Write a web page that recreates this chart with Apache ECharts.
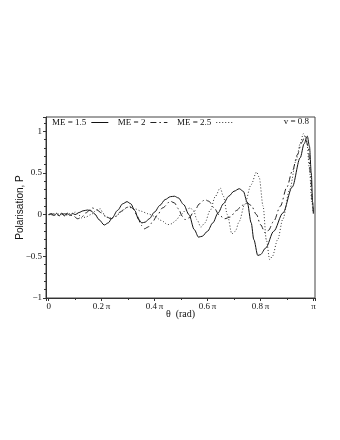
<!DOCTYPE html>
<html>
<head>
<meta charset="utf-8">
<script src="https://cdn.jsdelivr.net/npm/echarts@6/dist/echarts.min.js"></script>
<style>
  html, body { margin: 0; padding: 0; background: #fff; }
  #main { width: 340px; height: 440px; }
</style>
</head>
<body>
<div id="main"></div>
<script>
// theta in units of pi, polarisation P
const me15 = [
  [0, 0], [0.01, 0.012], [0.02, -0.012], [0.03, 0.015], [0.04, -0.015], [0.05, 0.018],
  [0.06, -0.015], [0.07, 0.018], [0.08, -0.01], [0.09, 0.015], [0.1, 0.0], [0.115, 0.025],
  [0.13, 0.045], [0.147, 0.055], [0.16, 0.045], [0.175, 0.005], [0.19, -0.06], [0.21, -0.125],
  [0.225, -0.1], [0.24, -0.04], [0.26, 0.05], [0.28, 0.13], [0.296, 0.155], [0.31, 0.13],
  [0.325, 0.05], [0.34, -0.06], [0.352, -0.1], [0.365, -0.09], [0.38, -0.05], [0.4, 0.03],
  [0.42, 0.11], [0.44, 0.18], [0.46, 0.215], [0.475, 0.22], [0.49, 0.2], [0.51, 0.12],
  [0.53, 0.0], [0.55, -0.18], [0.566, -0.27], [0.58, -0.26], [0.6, -0.2], [0.62, -0.1],
  [0.64, 0.02], [0.66, 0.13], [0.68, 0.22], [0.7, 0.28], [0.72, 0.31], [0.735, 0.28],
  [0.75, 0.15], [0.765, -0.1], [0.775, -0.3], [0.79, -0.49], [0.8, -0.48], [0.82, -0.4],
  [0.85, -0.2], [0.885, 0.02], [0.92, 0.33], [0.95, 0.68], [0.965, 0.85], [0.977, 0.94],
  [0.985, 0.82], [0.992, 0.5], [0.997, 0.15], [1.0, 0.02]
];
const me2 = [
  [0, 0], [0.02, 0.008], [0.04, -0.01], [0.06, 0.01], [0.08, -0.01], [0.09, -0.01],
  [0.11, -0.05], [0.125, -0.03], [0.14, 0.02], [0.165, 0.08], [0.18, 0.06], [0.2, 0.02],
  [0.22, -0.03], [0.235, -0.05], [0.25, -0.03], [0.27, 0.03], [0.29, 0.08], [0.305, 0.1],
  [0.32, 0.07], [0.335, -0.02], [0.35, -0.13], [0.362, -0.17], [0.375, -0.15], [0.39, -0.1],
  [0.41, -0.01], [0.43, 0.08], [0.46, 0.16], [0.475, 0.14], [0.49, 0.07], [0.505, -0.02],
  [0.515, -0.06], [0.53, -0.04], [0.55, 0.04], [0.57, 0.13], [0.59, 0.18], [0.605, 0.16],
  [0.625, 0.08], [0.645, -0.01], [0.665, -0.05], [0.685, -0.03], [0.71, 0.05], [0.73, 0.11],
  [0.75, 0.14], [0.765, 0.11], [0.785, 0.0], [0.8, -0.12], [0.818, -0.22], [0.83, -0.19],
  [0.85, -0.08], [0.875, 0.1], [0.9, 0.33], [0.92, 0.52], [0.94, 0.72], [0.955, 0.86],
  [0.968, 0.94], [0.98, 0.82], [0.99, 0.45], [0.996, 0.15], [1.0, 0.02]
];
const me25 = [
  [0, 0], [0.02, -0.008], [0.04, 0.01], [0.06, -0.01], [0.08, 0.01], [0.09, 0.01],
  [0.1, 0.03], [0.11, 0.01], [0.125, -0.04], [0.14, -0.03], [0.16, 0.0], [0.18, 0.05],
  [0.195, 0.07], [0.205, 0.02], [0.215, -0.03], [0.235, -0.04], [0.255, -0.02], [0.275, 0.04],
  [0.3, 0.09], [0.325, 0.07], [0.35, 0.04], [0.375, 0.01], [0.4, -0.02], [0.425, -0.07],
  [0.45, -0.12], [0.465, -0.11], [0.48, -0.07], [0.5, 0.0], [0.52, 0.06], [0.535, 0.08],
  [0.548, 0.04], [0.56, -0.06], [0.575, -0.15], [0.59, -0.1], [0.61, 0.05], [0.63, 0.22],
  [0.648, 0.32], [0.66, 0.22], [0.675, 0.0], [0.692, -0.23], [0.705, -0.2], [0.72, -0.08],
  [0.74, 0.12], [0.765, 0.36], [0.785, 0.51], [0.795, 0.45], [0.81, 0.1], [0.822, -0.3],
  [0.835, -0.54], [0.845, -0.5], [0.865, -0.3], [0.885, -0.05], [0.91, 0.3], [0.935, 0.65],
  [0.95, 0.85], [0.962, 0.97], [0.975, 0.88], [0.985, 0.55], [0.994, 0.15], [1.0, 0.0]
];
const seriesNames = ['ME = 1.5', 'ME = 2', 'ME = 2.5'];
const xTickLabels = { 0: '0', 0.2: '0.2\u2009π', 0.4: '0.4\u2009π', 0.6: '0.6\u2009π', 0.8: '0.8\u2009π', 1: 'π' };

const serif = 'Liberation Serif';
const sans = 'Liberation Sans';

var chartDom = document.getElementById('main');
var myChart = echarts.init(chartDom);

function lineSeries(name, data, dash, color) {
  return {
    name: name,
    type: 'line',
    data: data,
    symbol: 'none',
    smooth: 0.3,
    smoothMonotone: 'x',
    lineStyle: { color: color, width: 1, type: dash },
    itemStyle: { color: 'transparent', borderWidth: 0 },
    animation: false
  };
}

var option = {
  animation: false,
  title: {
    text: 'v = 0.8',
    right: 31,
    top: 117,
    padding: 0,
    textStyle: { fontFamily: serif, fontSize: 9, fontWeight: 'normal', color: '#111' }
  },
  legend: {
    data: seriesNames,
    left: 52,
    top: 118,
    padding: 0,
    align: 'right',
    itemWidth: 17,
    itemHeight: 9,
    itemGap: 9,
    itemStyle: { opacity: 0 },
    lineStyle: { width: 1 },
    textStyle: { fontFamily: serif, fontSize: 9, color: '#111' }
  },
  grid: {
    left: 46,
    right: 25,
    top: 117,
    bottom: 142,
    show: true,
    borderColor: '#444',
    borderWidth: 1
  },
  xAxis: {
    type: 'value',
    min: -0.01,
    max: 1.006,
    splitNumber: 5,
    name: 'θ  (rad)',
    nameLocation: 'middle',
    nameGap: 11,
    nameMoveOverlap: false,
    nameTextStyle: { fontFamily: serif, fontSize: 10, color: '#111' },
    axisLine: { onZero: false, lineStyle: { color: '#333' } },
    axisTick: { show: true, length: 3, lineStyle: { color: '#333' } },
    minorTick: { show: true, splitNumber: 2, length: 2, lineStyle: { color: '#333' } },
    splitLine: { show: false },
    axisLabel: {
      showMinLabel: false,
      showMaxLabel: false,
      margin: 4,
      fontFamily: serif,
      fontSize: 9,
      color: '#111',
      formatter: function (v) {
        const k = Math.round(v * 10) / 10;
        return xTickLabels[k] !== undefined ? xTickLabels[k] : '';
      }
    }
  },
  yAxis: {
    type: 'value',
    min: -1,
    max: 1.17,
    interval: 0.5,
    name: 'Polarisation, P',
    nameLocation: 'middle',
    nameGap: 21,
    nameMoveOverlap: false,
    nameTextStyle: { fontFamily: sans, fontSize: 10, color: '#111' },
    axisLine: { onZero: false, lineStyle: { color: '#333' } },
    axisTick: { show: true, length: 3, lineStyle: { color: '#333' } },
    minorTick: { show: true, splitNumber: 5, length: 2, lineStyle: { color: '#333' } },
    splitLine: { show: false },
    axisLabel: {
      showMaxLabel: false,
      margin: 4,
      fontFamily: serif,
      fontSize: 9,
      color: '#111',
      formatter: function (v) {
        return String(v).replace('-', '\u2212');
      }
    }
  },
  series: [
    lineSeries(seriesNames[0], me15, 'solid', '#111'),
    lineSeries(seriesNames[1], me2, [6, 3, 1.5, 3], '#222'),
    lineSeries(seriesNames[2], me25, [1, 2], '#333')
  ]
};

option && myChart.setOption(option);
</script>
</body>
</html>
